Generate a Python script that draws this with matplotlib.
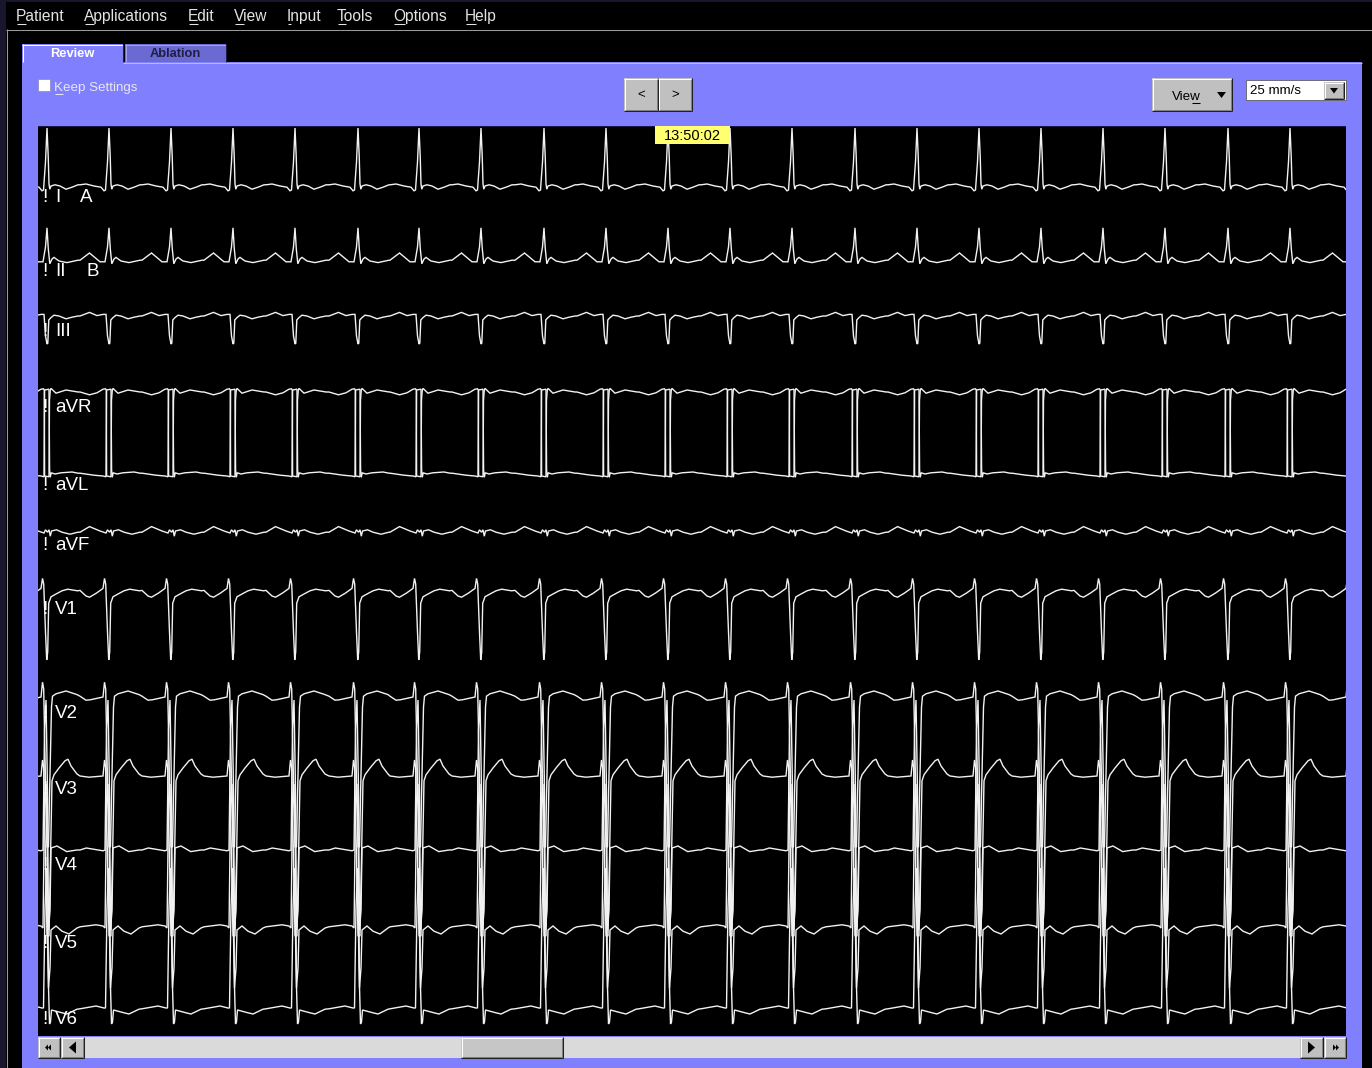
import numpy as np
import matplotlib
matplotlib.use("Agg")
import matplotlib.pyplot as plt
from matplotlib.patches import Rectangle, Polygon

W, H, DPI = 1372, 1068, 100
FONT = "Liberation Sans"

# ---------------------------------------------------------------- data
menu_items = ["Patient", "Applications", "Edit", "View", "Input", "Tools", "Options", "Help"]
tab_labels = ["Review", "Ablation"]
speed_label = "25 mm/s"
time_label = "13:50:02"

lead_names = ["I", "II", "III", "aVR", "aVL", "aVF", "V1", "V2", "V3", "V4", "V5", "V6"]
lead_tags = ["A", "B", "", "", "", "", "", "", "", "", "", ""]

# R-wave instants (s) of the displayed strip, 25 mm/s
beat_times = [-0.53, 0.09, 0.71, 1.33, 1.95, 2.57, 3.20, 3.81, 4.43, 5.06, 5.68,
              6.30, 6.92, 7.54, 8.17, 8.79, 9.41, 10.03, 10.65, 11.27, 11.90,
              12.52, 13.14]

# one averaged complex per lead: offset from R (ms) and amplitude (mV)
I_t = [-290, -230, -150, -80, -50, -35, -15, 0, 12, 20, 28, 40, 80, 130, 190, 250, 310]
I_v = [0.03, 0.05, 0.0, -0.03, -0.12, -0.1, 0.6, 1.45, 0.75, 0.05, -0.08, 0.0, 0.03, 0.0, -0.08, -0.03, 0.03]

II_t = [-290, -195, -90, -40, -15, 0, 13, 28, 50, 70, 120, 200, 310]
II_v = [-0.03, 0.15, -0.07, -0.07, 0.3, 0.78, 0.25, -0.12, 0.0, 0.04, -0.05, -0.09, -0.03]

III_t = [-290, -195, -120, -60, -30, -15, 0, 8, 18, 40, 70, 120, 190, 250, 310]
III_v = [0.0, 0.09, 0.01, 0.04, 0.04, -0.5, -0.7, -0.68, -0.1, -0.04, 0.02, 0.0, -0.07, -0.03, 0.0]

aVR_t = [-290, -195, -120, -60, -35, -27, -24, 20, 25, 33, 40, 90, 190, 310]
aVR_v = [0.0, -0.07, -0.02, 0.07, 0.08, 0.05, -2.1, -2.12, -0.2, 0.05, 0.09, -0.03, 0.05, 0.0]

aVL_t = [-290, -150, -60, -30, -24, 20, 26, 33, 42, 80, 140, 250, 310]
aVL_v = [0.02, -0.03, -0.05, -0.07, 2.1, 2.12, 0.1, -0.08, 0.03, 0.0, 0.03, 0.05, 0.02]

aVF_t = [-290, -195, -90, -30, -15, 5, 20, 33, 45, 95, 150, 230, 310]
aVF_v = [-0.03, 0.11, 0.0, -0.05, 0.03, -0.03, 0.03, -0.13, 0.0, 0.03, -0.03, -0.08, -0.03]

V1_t = [-290, -230, -195, -127, -60, -45, -33, -15, -3, 7, 17, 40, 90, 150, 207, 305]
V1_v = [0.04, -0.1, -0.13, -0.03, 0.09, 0.34, 0.2, -1.0, -1.7, -1.5, -0.28, -0.12, -0.05, 0.03, 0.07, 0.03]

V2_t = [-290, -230, -187, -60, -45, -33, -20, 0, 15, 25, 45, 55, 90, 190, 300]
V2_v = [0.02, -0.08, -0.07, 0.0, 0.37, 0.2, -1.5, -3.75, -3.75, -2.5, -0.25, 0.02, 0.08, 0.15, 0.06]

V3_t = [-290, -200, -60, -45, -33, -20, 0, 20, 35, 50, 70, 120, 180, 210, 240, 300]
V3_v = [0.0, -0.03, 0.0, 0.4, 0.2, -1.5, -4.0, -4.0, -2.0, -0.12, 0.03, 0.2, 0.38, 0.42, 0.25, 0.05]

V4_t = [-290, -227, -60, -40, -25, -10, 5, 15, 30, 40, 100, 197, 300]
V4_v = [0.0, 0.05, -0.02, 0.0, 3.0, 3.75, 1.5, -2.0, -1.5, 0.05, 0.1, -0.04, 0.0]

V5_t = [-290, -130, -60, -40, -25, -10, 5, 15, 30, 40, 90, 150, 220, 300]
V5_v = [0.03, 0.08, 0.05, 0.0, 3.0, 3.6, 1.5, -1.5, -1.0, -0.05, 0.05, -0.08, -0.15, 0.0]

V6_t = [-290, -130, -50, -35, -20, -5, 10, 25, 35, 45, 90, 150, 200, 300]
V6_v = [-0.02, 0.05, 0.0, 0.0, 2.5, 3.5, 1.0, -0.4, -0.35, -0.05, -0.08, -0.12, -0.15, -0.03]

complexes = [(I_t, I_v), (II_t, II_v), (III_t, III_v), (aVR_t, aVR_v), (aVL_t, aVL_v),
             (aVF_t, aVF_v), (V1_t, V1_v), (V2_t, V2_v), (V3_t, V3_v), (V4_t, V4_v),
             (V5_t, V5_v), (V6_t, V6_v)]

# ---------------------------------------------------------------- layout
PX_PER_S = 100.0     # 25 mm/s at 4 px/mm
PX_PER_MV = 40.0     # 10 mm/mV at 4 px/mm
ECG_X0, ECG_X1, ECG_Y0, ECG_Y1 = 38, 1346, 126, 1036
baseline_px = [186, 259, 316, 392, 474, 531, 592, 697, 776, 850, 928, 1008]
label_y = [197, 272, 332, 408, 485, 546, 610, 714, 790, 866, 943, 1020]
menu_x = [16, 84, 188, 234, 287, 337, 393, 465]

PANEL = "#8080FF"
BTN = "#C0C0C0"

fig = plt.figure(figsize=(W / DPI, H / DPI), dpi=DPI, facecolor="#000000")
ui = fig.add_axes([0, 0, 1, 1])
ui.set_xlim(0, W)
ui.set_ylim(H, 0)
ui.axis("off")
renderer = fig.canvas.get_renderer()


def rect(ax, x, y, w, h, fc, ec="none", lw=0, z=1):
    ax.add_patch(Rectangle((x, y), w, h, facecolor=fc, edgecolor=ec, linewidth=lw, zorder=z))


def hline(ax, x0, x1, y, c, z=3):
    ax.plot([x0, x1], [y, y], color=c, lw=0.75, solid_capstyle="butt", zorder=z)


def vline(ax, x, y0, y1, c, z=3):
    ax.plot([x, x], [y0, y1], color=c, lw=0.75, solid_capstyle="butt", zorder=z)


def bevel(ax, x, y, w, h, face=BTN, sunken=False, z=2):
    rect(ax, x, y, w, h, face, z=z)
    lt, dk, dd = ("#FFFFFF", "#808080", "#202020")
    if sunken:
        lt, dd = dd, lt
    hline(ax, x, x + w, y + 0.5, lt, z + 1)
    vline(ax, x + 0.5, y, y + h, lt, z + 1)
    hline(ax, x, x + w, y + h - 0.5, dd, z + 1)
    vline(ax, x + w - 0.5, y, y + h, dd, z + 1)
    hline(ax, x + 1, x + w - 1, y + h - 1.5, dk, z + 1)
    vline(ax, x + w - 1.5, y + 1, y + h - 1, dk, z + 1)


def text_ul(ax, x, y, s, idx, color, size, weight="normal", z=5):
    kw = dict(fontsize=size, fontfamily=FONT, fontweight=weight, color=color,
              ha="left", va="baseline", zorder=z)
    ax.text(x, y, s, **kw)
    if idx is None:
        return
    w0 = 0.0
    if idx > 0:
        t0 = ax.text(x, y, s[:idx], **kw)
        w0 = t0.get_window_extent(renderer).width
        t0.remove()
    t1 = ax.text(x, y, s[:idx + 1], **kw)
    w1 = t1.get_window_extent(renderer).width
    t1.remove()
    hline(ax, x + w0 + 0.5, x + w1 - 0.5, y + 2.5, color, z)


# ---- window frame and menu bar
rect(ui, 0, 0, W, H, "#000000", z=0)
rect(ui, 0, 0, 6, H, "#17162C", z=0.5)
rect(ui, 0, 0, W, 2, "#17162C", z=0.5)
hline(ui, 6, W, 29.5, "#9A9A9A")
vline(ui, 6.5, 29, H, "#9A9A9A")
for name, mx in zip(menu_items, menu_x):
    text_ul(ui, mx, 21, name, 0, "#E4E4E4", 11.2)

# ---- tabbed panel
rect(ui, 22, 62, 1340, H - 62, PANEL, z=1)
rect(ui, 22, 44, 101, 19, PANEL, z=1.5)
hline(ui, 22, 123, 44.5, "#FFFFFF")
vline(ui, 22.5, 44, 62, "#FFFFFF")
vline(ui, 122.5, 44, 62, "#202040")
rect(ui, 125, 44, 101, 18, "#6A6AD2", z=1.5)
hline(ui, 125, 226, 44.5, "#A0A0F0")
vline(ui, 125.5, 44, 62, "#A0A0F0")
vline(ui, 225.5, 44, 62, "#202040")
hline(ui, 123, 1362, 62.5, "#B8B8FF")
ui.text(72, 54, tab_labels[0], fontsize=9.3, fontweight="bold", fontfamily=FONT,
        color="#FFFFFF", ha="center", va="center", zorder=5)
ui.text(175, 54, tab_labels[1], fontsize=9.3, fontweight="bold", fontfamily=FONT,
        color="#1E1E46", ha="center", va="center", zorder=5)

# checkbox
rect(ui, 38, 79, 12, 12, "#FFFFFF", ec="#9090C0", lw=0.6, z=3)
text_ul(ui, 54, 91, "Keep Settings", 0, "#E6E6F2", 9.6)

# navigation buttons
bevel(ui, 624, 78, 34, 33)
bevel(ui, 658, 78, 34, 33)
ui.text(641, 95, "<", fontsize=9.5, fontfamily=FONT, color="#000000", ha="center", va="center", zorder=6)
ui.text(675, 95, ">", fontsize=9.5, fontfamily=FONT, color="#000000", ha="center", va="center", zorder=6)

# view button with drop-down marker
bevel(ui, 1152, 78, 80, 33)
text_ul(ui, 1172, 100, "View", 3, "#000000", 9.6)
ui.add_patch(Polygon([[1217, 92], [1226, 92], [1221.5, 98]], closed=True, fc="#000000", ec="none", zorder=6))

# paper speed combo box
rect(ui, 1246, 80, 100, 20, "#FFFFFF", ec="#606060", lw=0.6, z=3)
ui.text(1250, 90.5, speed_label, fontsize=9.6, fontfamily=FONT, color="#000000", ha="left", va="center", zorder=6)
bevel(ui, 1324, 82, 20, 17, z=4)
ui.add_patch(Polygon([[1330, 88], [1338, 88], [1334, 93.5]], closed=True, fc="#000000", ec="none", zorder=7))

# ---- scrollbar under the strip
rect(ui, ECG_X0, 1037, ECG_X1 - ECG_X0, 21, "#DADADA", z=2)
bevel(ui, 38, 1037, 22, 21)
bevel(ui, 61, 1037, 23, 21)
bevel(ui, 461, 1037, 102, 21, face="#C6C6C6")
bevel(ui, 1300, 1037, 23, 21)
bevel(ui, 1324, 1037, 22, 21)
ui.add_patch(Polygon([[76, 1041.5], [76, 1053.5], [69, 1047.5]], closed=True, fc="#000000", ec="none", zorder=7))
ui.add_patch(Polygon([[1308, 1041.5], [1308, 1053.5], [1315, 1047.5]], closed=True, fc="#000000", ec="none", zorder=7))
for dx in (0, 3):
    ui.add_patch(Polygon([[48 + dx, 1044.5], [48 + dx, 1050.5], [45 + dx, 1047.5]], closed=True,
                         fc="#000000", ec="none", zorder=7))
    ui.add_patch(Polygon([[1333 + dx, 1044.5], [1333 + dx, 1050.5], [1336 + dx, 1047.5]], closed=True,
                         fc="#000000", ec="none", zorder=7))

# ---- ECG strip
ecg = fig.add_axes([ECG_X0 / W, 1 - ECG_Y1 / H, (ECG_X1 - ECG_X0) / W, (ECG_Y1 - ECG_Y0) / H])
ecg.set_facecolor("#000000")
ecg.set_xlim(0, (ECG_X1 - ECG_X0) / PX_PER_S)
ecg.set_ylim(ECG_Y1 - ECG_Y0, 0)
ecg.set_xticks([])
ecg.set_yticks([])
for sp in ecg.spines.values():
    sp.set_visible(False)
ecg.axhline(0.3, color="#1E1E50", lw=1.2)

for (t_ms, v_mv), base in zip(complexes, baseline_px):
    xs, ys = [], []
    for bt in beat_times:
        for t, v in zip(t_ms, v_mv):
            xs.append(bt + t / 1000.0)
            ys.append(base - ECG_Y0 - v * PX_PER_MV)
    ecg.plot(xs, ys, color="#F2F2F2", lw=1.0, solid_joinstyle="miter")

# ---- overlay: lead names and time stamp
ov = fig.add_axes([0, 0, 1, 1], facecolor="none")
ov.set_xlim(0, W)
ov.set_ylim(H, 0)
ov.axis("off")
for name, tag, ly in zip(lead_names, lead_tags, label_y):
    ov.text(42, ly, "!", fontsize=13.5, fontfamily=FONT, color="#FFFFFF", ha="left", va="center")
    ov.text(55, ly, name, fontsize=13.5, fontfamily=FONT, color="#FFFFFF", ha="left", va="center")
    if tag:
        ov.text(80 if tag == "A" else 86, ly, tag, fontsize=13.5, fontfamily=FONT,
                color="#FFFFFF", ha="left", va="center")

rect(ov, 655, 126, 75, 18, "#FFFF70", z=5)
ov.text(692, 135.5, time_label, fontsize=10.5, fontfamily=FONT, color="#000000",
        ha="center", va="center", zorder=6)

fig.savefig("out.png", dpi=DPI, facecolor=fig.get_facecolor())
